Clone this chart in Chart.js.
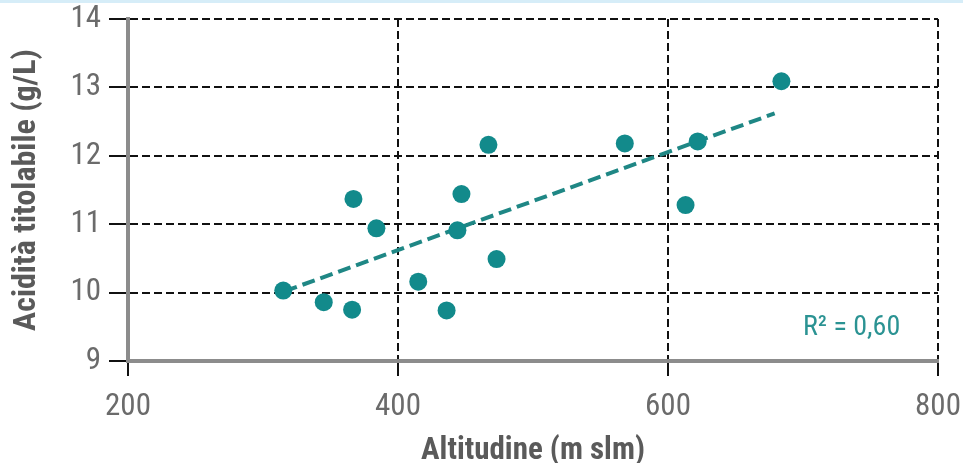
<!DOCTYPE html>
<html>
<head>
<meta charset="utf-8">
<script src="https://cdn.jsdelivr.net/npm/chart.js@4"></script>
<style>
  html, body { margin: 0; padding: 0; background: #fff; }
  #wrap { position: relative; width: 963px; height: 463px; }
  #topline { position: absolute; left: 0; top: 0; width: 963px; height: 3px; background: #d6edf8; }
</style>
</head>
<body>
<div id="wrap">
  <canvas id="chart" width="963" height="463"></canvas>
  <div id="topline"></div>
</div>
<script>
// Altitudine (m slm) / Acidità titolabile (g/L)
const altitudine = [315, 345, 366, 367, 384, 415, 436, 444, 447, 467, 473, 568, 613, 622, 684];
const acidita   = [10.03, 9.86, 9.75, 11.37, 10.94, 10.16, 9.74, 10.91, 11.44, 12.16, 10.49, 12.18, 11.28, 12.21, 13.09];

// retta di tendenza (estremi)
const trendX = [316, 679];
const trendY = [10.02, 12.62];

const xTicks = [200, 400, 600, 800];
const yTicks = [9, 10, 11, 12, 13, 14];
const r2Label = 'R² = 0,60';
const r2Pos = [736, 9.48];

const FONT = "'Liberation Sans Narrow', 'Roboto Condensed', Roboto, sans-serif";
const TEAL = '#128a8b';

const r2Plugin = {
    id: 'r2',
    afterDatasetsDraw(chart) {
        const ctx = chart.ctx;
        const x = chart.scales.x.getPixelForValue(r2Pos[0]);
        const y = chart.scales.y.getPixelForValue(r2Pos[1]);
        ctx.save();
        ctx.font = '28px ' + FONT;
        ctx.fillStyle = '#2b9393';
        ctx.textAlign = 'center';
        ctx.textBaseline = 'middle';
        ctx.fillText(r2Label, x, y);
        ctx.restore();
    }
};

const pts = altitudine.map((a, i) => ({ x: a, y: acidita[i] }));
const trend = trendX.map((a, i) => ({ x: a, y: trendY[i] }));

new Chart(document.getElementById('chart'), {
    type: 'scatter',
    data: {
        datasets: [
            {
                data: pts,
                pointRadius: 9,
                pointHoverRadius: 9,
                pointBackgroundColor: TEAL,
                pointBorderWidth: 0,
                order: 1
            },
            {
                type: 'line',
                data: trend,
                showLine: true,
                borderColor: '#1f8785',
                borderWidth: 4,
                borderDash: [13, 6],
                pointRadius: 0,
                fill: false,
                order: 2
            }
        ]
    },
    options: {
        responsive: false,
        animation: false,
        layout: { padding: { top: 19, right: 25, left: 0, bottom: 0 } },
        plugins: { legend: { display: false }, tooltip: { enabled: false } },
        scales: {
            x: {
                type: 'linear',
                min: 200, max: 800,
                afterBuildTicks: s => { s.ticks = xTicks.map(v => ({ value: v })); },
                afterFit: s => {
                    s.height = 102;
                    s.paddingLeft = 0; s.paddingRight = 0;
                },
                grid: {
                    color: '#111',
                    lineWidth: 2,
                    tickLength: 15,
                    tickWidth: 2,
                    tickColor: '#111',
                    tickBorderDash: []
                },
                border: { display: true, color: '#8c8c8c', width: 4, dash: [8, 4] },
                ticks: {
                    color: '#6b6b6b',
                    padding: 13,
                    font: { family: FONT, size: 31 }
                },
                title: {
                    display: true,
                    text: 'Altitudine (m slm)',
                    color: '#5a5a5a',
                    font: { family: FONT, size: 31, weight: 'bold', lineHeight: 0.75 },
                    padding: { top: 0, bottom: 0 }
                }
            },
            y: {
                type: 'linear',
                min: 9, max: 14,
                afterBuildTicks: s => { s.ticks = yTicks.map(v => ({ value: v })); },
                afterFit: s => {
                    s.width = 128;
                    s.paddingTop = 0; s.paddingBottom = 0;
                },
                grid: {
                    color: '#111',
                    lineWidth: 2,
                    tickLength: 19,
                    tickWidth: 2,
                    tickColor: '#111',
                    tickBorderDash: []
                },
                border: { display: true, color: '#8c8c8c', width: 4, dash: [8, 4] },
                ticks: {
                    color: '#6b6b6b',
                    padding: 8,
                    font: { family: FONT, size: 31 }
                },
                title: {
                    display: true,
                    text: 'Acidità titolabile (g/L)',
                    color: '#5a5a5a',
                    font: { family: FONT, size: 32, weight: 'bold', lineHeight: 1.2 },
                    padding: { top: 8, bottom: 0 }
                }
            }
        }
    },
    plugins: [r2Plugin]
});
</script>
</body>
</html>
